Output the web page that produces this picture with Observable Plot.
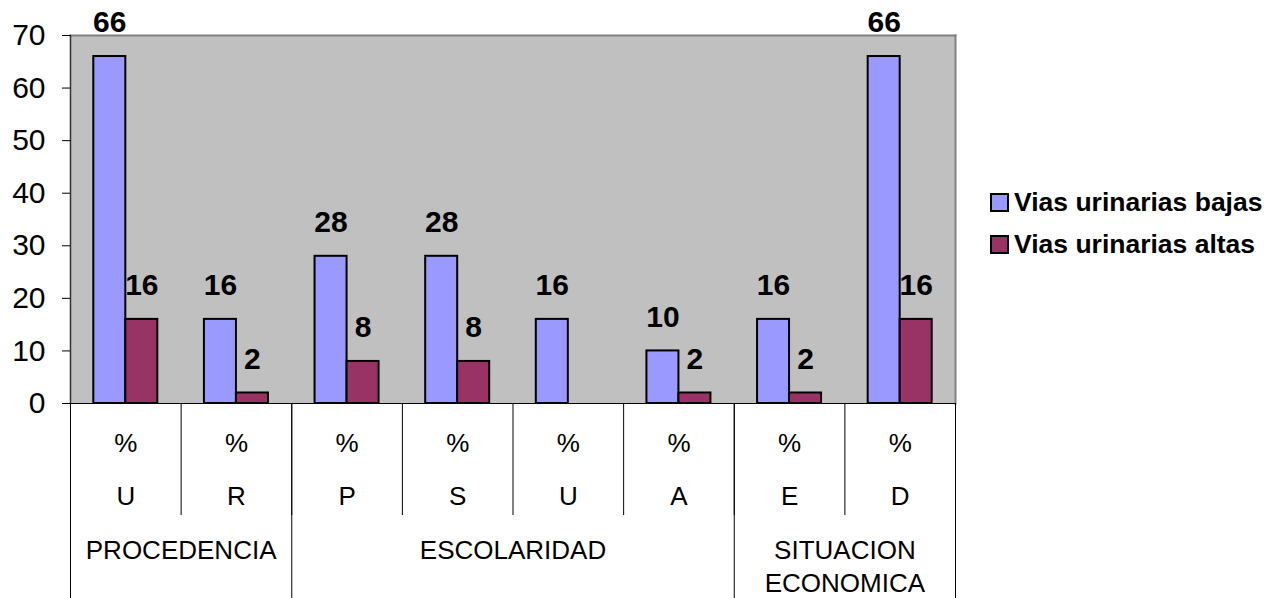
<!DOCTYPE html>
<html>
<head>
<meta charset="utf-8">
<script src="https://cdn.jsdelivr.net/npm/d3@7"></script>
<script src="https://cdn.jsdelivr.net/npm/@observablehq/plot@0.6"></script>
<style>
  body { margin: 0; background: #fff; font-family: "Liberation Sans", Arial, sans-serif; }
  #chart { position: relative; width: 1282px; height: 598px; }
  .legend { position: absolute; left: 990px; top: 190px; }
  .legend-item { display: flex; align-items: center; height: 24px; margin-bottom: 18px;
                 font-weight: bold; font-size: 26.5px; color: #000; white-space: nowrap; }
  .swatch { width: 15px; height: 15px; border: 2px solid #000; margin-right: 5px; flex: none; }
</style>
</head>
<body>
<div id="chart"></div>
<script>
// Category axis: unit row, letter row and the group each category belongs to
const categoryGroup = ["PROCEDENCIA", "PROCEDENCIA", "ESCOLARIDAD", "ESCOLARIDAD",
                       "ESCOLARIDAD", "ESCOLARIDAD", "SITUACION\nECONOMICA", "SITUACION\nECONOMICA"];
const categoryLetter = ["U", "R", "P", "S", "U", "A", "E", "D"];
const categoryUnit = ["%", "%", "%", "%", "%", "%", "%", "%"];

// Series
const series = ["Vias urinarias bajas", "Vias urinarias altas"];
const bajas = [66, 16, 28, 28, 16, 10, 16, 66];
const altas = [16, 2, 8, 8, null, 2, 2, 16];
const seriesColors = ["#9999FF", "#993366"];

// Value axis ticks
const yTicks = [0, 10, 20, 30, 40, 50, 60, 70];

// Layout
const W = 1282, H = 598;
const M = {top: 35, right: 327, bottom: 195, left: 70};
const plotH = H - M.top - M.bottom;
const innerRowDrop = 111;      // category separators stop after the letter row
const groupRowDrop = M.bottom; // group separators run to the bottom edge

const keys = categoryLetter.map((l, i) => `${categoryGroup[i]}|${l}`);
const cats = keys.map((key, i) => ({key, unit: categoryUnit[i], letter: categoryLetter[i], group: categoryGroup[i]}));

const rows = [];
keys.forEach((key, i) => {
  [bajas[i], altas[i]].forEach((v, s) => {
    if (v != null) rows.push({key, series: series[s], value: v});
  });
});

// Groups: first/last category of each, and the facet whose edge marks the group centre
const groupNames = [...new Set(categoryGroup)];
const groups = groupNames.map(name => {
  const idx = categoryGroup.map((g, i) => g === name ? i : -1).filter(i => i >= 0);
  const start = idx[0], end = idx[idx.length - 1], n = idx.length;
  const even = n % 2 === 0;
  return {
    name,
    startKey: keys[start],
    endKey: keys[end],
    labelKey: keys[start + (even ? n / 2 - 1 : (n - 1) / 2)],
    anchor: even ? "bottom-right" : "bottom"
  };
});

const textFont = 26;

const marks = [
  // plot area background and border
  Plot.frame({facet: "super", fill: "#C0C0C0", stroke: null}),
  Plot.frame({facet: "super", anchor: "top", stroke: "#808080", strokeWidth: 2}),
  Plot.frame({facet: "super", anchor: "right", stroke: "#808080", strokeWidth: 2}),
  Plot.frame({facet: "super", anchor: "left", stroke: "#333", strokeWidth: 1.5}),

  // bars
  Plot.barY(rows, {fx: "key", x: "series", y: "value", fill: "series", stroke: "#000", strokeWidth: 2}),

  // baseline
  Plot.ruleY([0], {stroke: "#000", strokeWidth: 1.2}),

  // value labels
  Plot.text(rows, {fx: "key", x: "series", y: "value", text: "value", dy: -34,
                   fontWeight: "bold", fontSize: 30, fill: "#000"}),

  // value axis
  Plot.axisY({ticks: yTicks, tickSize: 8, tickPadding: 17, fontSize: 30, label: null,
              stroke: "#000", fill: "#000", tickFormat: d => String(d)}),

  // category table: separators between categories
  Plot.frame({anchor: "left", stroke: "#000", insetTop: plotH, insetBottom: -innerRowDrop}),

  // category table: separators between groups
  ...groups.map(g => Plot.frame({anchor: "left", fx: [g.startKey], stroke: "#000",
                                 insetTop: plotH, insetBottom: -groupRowDrop})),
  Plot.frame({anchor: "right", fx: [groups[groups.length - 1].endKey], stroke: "#000",
              insetTop: plotH, insetBottom: -groupRowDrop}),

  // category table: unit and letter rows
  Plot.text(cats, {fx: "key", text: "unit", frameAnchor: "bottom", lineAnchor: "top",
                   dy: 30, fontSize: textFont, fill: "#000"}),
  Plot.text(cats, {fx: "key", text: "letter", frameAnchor: "bottom", lineAnchor: "top",
                   dy: 83, fontSize: textFont, fill: "#000"}),

  // category table: group row
  ...groups.map(g => Plot.text([g.name], {fx: [g.labelKey], text: d => d, frameAnchor: g.anchor,
                                          textAnchor: "middle", lineAnchor: "top", dy: 131,
                                          lineHeight: 1.3, fontSize: textFont, fill: "#000"}))
];

const chart = Plot.plot({
  width: W,
  height: H,
  marginTop: M.top,
  marginRight: M.right,
  marginBottom: M.bottom,
  marginLeft: M.left,
  style: {fontFamily: '"Liberation Sans", Arial, sans-serif', background: "#fff", overflow: "visible"},
  fx: {domain: keys, padding: 0, round: false, axis: null, label: null},
  x: {domain: series, paddingInner: 0, paddingOuter: 0.728, round: false, axis: null, label: null},
  y: {domain: [0, 70], axis: null, label: null},
  color: {domain: series, range: seriesColors},
  marks
});

const root = document.getElementById("chart");
root.appendChild(chart);

// legend
const legend = document.createElement("div");
legend.className = "legend";
series.forEach((name, i) => {
  const item = document.createElement("div");
  item.className = "legend-item";
  const sw = document.createElement("span");
  sw.className = "swatch";
  sw.style.background = seriesColors[i];
  const label = document.createElement("span");
  label.textContent = name;
  item.append(sw, label);
  legend.appendChild(item);
});
root.appendChild(legend);
</script>
</body>
</html>
